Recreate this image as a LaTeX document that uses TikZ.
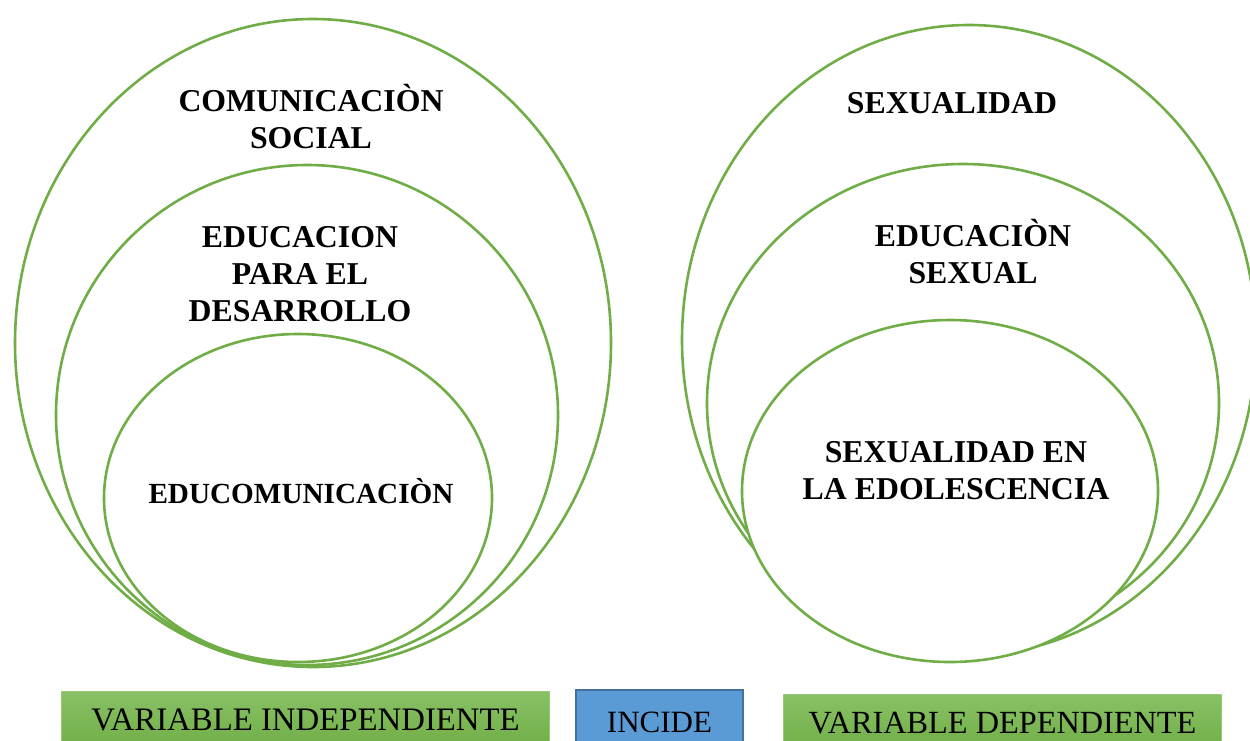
\documentclass[tikz,border=0pt]{standalone}
\usepackage{fontspec}
\setmainfont{Liberation Serif}
\definecolor{ringgreen}{HTML}{70AD47}
\definecolor{gtop}{RGB}{137,193,102}
\definecolor{gbot}{RGB}{103,166,58}
\definecolor{gedge}{RGB}{150,200,120}
\definecolor{bfill}{HTML}{5B9BD5}
\definecolor{bedge}{HTML}{41719C}
\begin{document}
\begin{tikzpicture}[x=1pt,y=-1pt,
  ring/.style={draw=ringgreen, line width=2.6pt, fill=white},
  lbl/.style={font=\fontsize{31.8}{36.8}\selectfont\bfseries, align=center, anchor=base, inner sep=0pt},
  gbox/.style={top color=gtop, bottom color=gbot, draw=gedge, line width=1pt, anchor=north west,
     inner sep=0pt, text depth=12pt, text height=12pt, font=\fontsize{32}{36}\selectfont},
  bbox/.style={fill=bfill, draw=bedge, line width=2pt, anchor=north west,
     inner sep=0pt, text depth=12pt, text height=12pt, font=\fontsize{31}{36}\selectfont}]
\useasboundingbox (0,0) rectangle (1250,740);
\clip (0,0) rectangle (1250,740);
% left group
\draw[ring] (313,343) ellipse [x radius=298pt, y radius=324pt];
\draw[ring] (307,415) ellipse [x radius=251pt, y radius=250pt];
\draw[ring] (298,498) ellipse [x radius=194pt, y radius=164pt];
% right group
\draw[ring] (969,340) ellipse [x radius=287pt, y radius=315pt];
\draw[ring] (963,403) ellipse [x radius=256pt, y radius=239pt];
\draw[ring] (950,491) ellipse [x radius=208pt, y radius=171pt];
% labels (anchor = baseline of last line)
\node[lbl] (comsoc) at (311,148) {COMUNICACIÒN\\SOCIAL};
\node[lbl] (edudes) at (300,321) {EDUCACION\\PARA EL\\DESARROLLO};
\node[lbl, font=\fontsize{29.2}{34}\selectfont\bfseries] (educom) at (301,503) {EDUCOMUNICACIÒN};
\node[lbl] (sexual) at (952,113) {SEXUALIDAD};
\node[lbl] (edusex) at (973,283) {EDUCACIÒN\\SEXUAL};
\node[lbl] (sexado) at (956,499) {SEXUALIDAD EN\\LA EDOLESCENCIA};
% bottom boxes
\node[gbox, minimum width=488pt, minimum height=78pt, font=\fontsize{32.8}{36}\selectfont] (vi) at (61,691) {VARIABLE INDEPENDIENTE};
\node[bbox, minimum width=167pt, minimum height=84pt] (inc) at (575,689) {INCIDE};
\node[gbox, minimum width=438pt, minimum height=78pt, font=\fontsize{32.3}{36}\selectfont] (vd) at (783,694) {VARIABLE DEPENDIENTE};
\end{tikzpicture}
\end{document}
